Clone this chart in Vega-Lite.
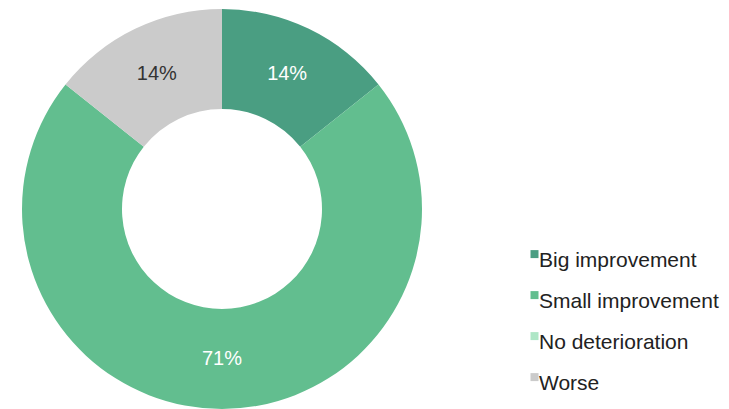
{
  "$schema": "https://vega.github.io/schema/vega-lite/v6.json",
  "width": 444,
  "height": 418,
  "autosize": "none",
  "padding": {"left": 0, "top": 0, "right": 285, "bottom": 0},
  "background": "white",
  "view": {"stroke": null},
  "data": {
    "values": [
      {"category": "Big improvement", "value": 14.3, "label": "14%", "order": 1},
      {"category": "Small improvement", "value": 71.4, "label": "71%", "order": 2},
      {"category": "No deterioration", "value": 0, "label": "0%", "order": 3},
      {"category": "Worse", "value": 14.3, "label": "14%", "order": 4}
    ]
  },
  "encoding": {
    "theta": {"field": "value", "type": "quantitative", "stack": true},
    "order": {"field": "order", "type": "quantitative"},
    "color": {
      "field": "category",
      "type": "nominal",
      "scale": {
        "domain": ["Big improvement", "Small improvement", "No deterioration", "Worse"],
        "range": ["#4a9e82", "#62be8f", "#aee6c6", "#cbcbcb"]
      },
      "legend": {
        "orient": "none",
        "legendX": 524,
        "legendY": 250,
        "title": null,
        "labelFontSize": 21,
        "labelFont": "Liberation Sans",
        "labelColor": "#222222",
        "labelLimit": 0,
        "symbolType": "M-1,-2.6H1V-0.6H-1Z",
        "symbolSize": 64,
        "symbolStrokeWidth": 0,
        "rowPadding": 19,
        "labelOffset": -6,
        "padding": 0
      }
    }
  },
  "layer": [
    {"mark": {"type": "arc", "outerRadius": 200, "innerRadius": 100, "strokeWidth": 0}},
    {
      "transform": [{"filter": "datum.value > 0"}],
      "mark": {"type": "text", "radius": 150, "fontSize": 20, "font": "Liberation Sans"},
      "encoding": {
        "text": {"field": "label", "type": "nominal"},
        "color": {"condition": {"test": "datum.category === 'Worse'", "value": "#333333"}, "value": "white"}
      }
    }
  ]
}
